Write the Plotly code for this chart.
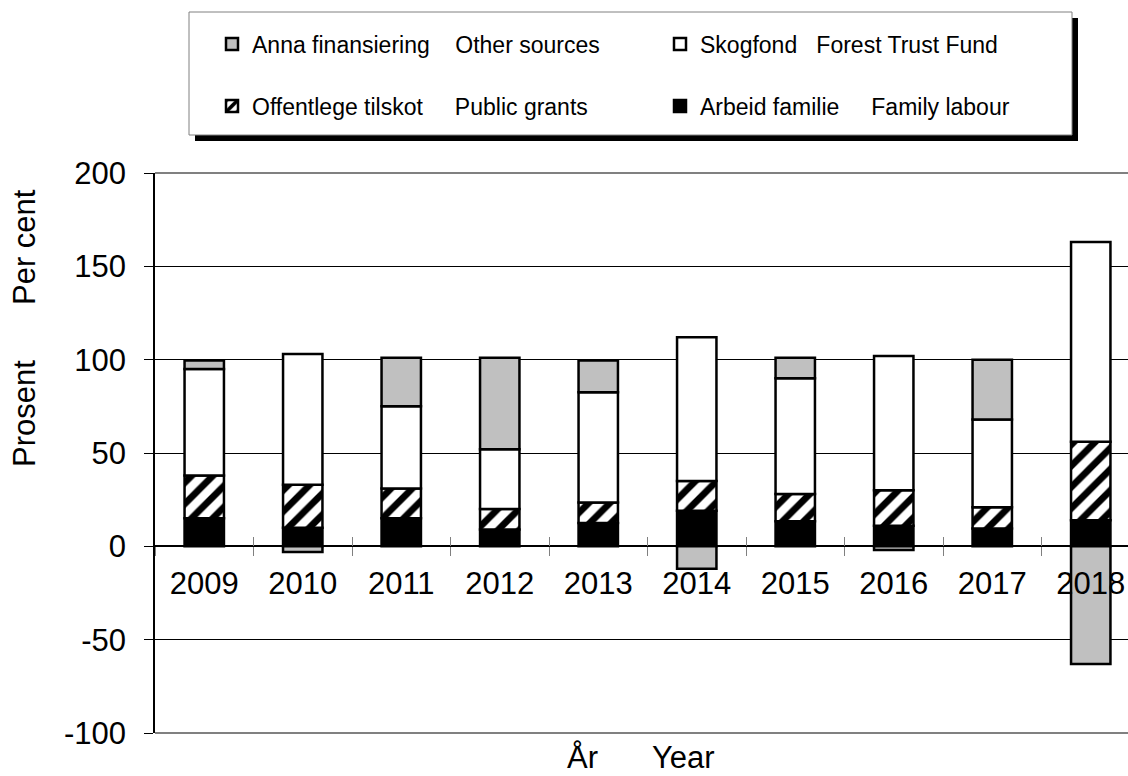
import plotly.graph_objects as go

years = ["2009", "2010", "2011", "2012", "2013", "2014", "2015", "2016", "2017", "2018"]
family_labour = [15, 10, 15, 9, 12.5, 19, 13.5, 11, 9.5, 14]
public_grants = [23, 23, 16, 11, 11, 16, 14.5, 19, 11.5, 42]
forest_fund = [57, 70, 44, 32, 59, 77, 62, 72, 47, 107]
other_sources = [4.5, -3, 26, 49, 17, -12, 11, -2, 32, -63]
y_ticks = [-100, -50, 0, 50, 100, 150, 200]
y_tick_text = ["-100", "-50", "0", "50", "100", "150", "200"]

NB = "\u00a0"
FONT = "Arial, Liberation Sans, sans-serif"
y_range = [-100, 200]
zero_pos = (0 - y_range[0]) / (y_range[1] - y_range[0])

# plot area 973 px wide, one category is about 98.5 px
x_range = [-0.5, -0.5 + 973 / 98.5]

line = dict(color="black", width=2.5)

fig = go.Figure()
fig.add_trace(go.Bar(
    x=years, y=family_labour, name="Arbeid familie" + NB * 5 + "Family labour",
    marker=dict(color="black", line=line), legend="legend2"))
fig.add_trace(go.Bar(
    x=years, y=public_grants, name="Offentlege tilskot" + NB * 5 + "Public grants",
    marker=dict(color="white", line=line,
                pattern=dict(shape="/", fgcolor="black", bgcolor="white",
                             fgopacity=1, size=15, solidity=0.45)),
    legend="legend2"))
fig.add_trace(go.Bar(
    x=years, y=forest_fund, name="Skogfond" + NB * 3 + "Forest Trust Fund",
    marker=dict(color="white", line=line), legend="legend"))
fig.add_trace(go.Bar(
    x=years, y=other_sources, name="Anna finansiering" + NB * 4 + "Other sources",
    marker=dict(color="#c0c0c0", line=line), legend="legend"))
# empty helper so the overlay axis knows the categories (inner half of the ticks)
fig.add_trace(go.Scatter(x=years, y=[None] * len(years), xaxis="x2",
                         showlegend=False, hoverinfo="skip"))

legend_common = dict(orientation="h", xanchor="left", yanchor="middle",
                     x=(212 - 155) / 973, bgcolor="rgba(0,0,0,0)", borderwidth=0,
                     entrywidth=403, entrywidthmode="pixels", traceorder="reversed",
                     font=dict(family=FONT, size=23, color="black"))

fig.update_layout(
    width=1128, height=776,
    margin=dict(l=155, r=0, t=173, b=43),
    paper_bgcolor="white", plot_bgcolor="white",
    barmode="relative", bargap=0.6,
    font=dict(family=FONT, size=31, color="black"),
    legend=dict(legend_common, y=(733 - 44) / 560),
    legend2=dict(legend_common, y=(733 - 106) / 560),
    xaxis=dict(type="category", range=x_range, anchor="free", position=zero_pos,
               showline=True, linecolor="black", linewidth=1.5,
               ticks="outside", tickson="boundaries", ticklen=9,
               tickcolor="#808080", tickwidth=1, showgrid=False,
               tickfont=dict(size=31), ticklabelstandoff=10),
    xaxis2=dict(type="category", range=x_range, overlaying="x", anchor="free",
                position=zero_pos, showline=False, showgrid=False,
                ticks="inside", tickson="boundaries", ticklen=9,
                tickcolor="#808080", tickwidth=1, showticklabels=False),
    yaxis=dict(range=y_range, tickvals=y_ticks, ticktext=y_tick_text,
               ticks="outside", ticklen=9,
               tickcolor="black", showline=True, linecolor="black", linewidth=1.5,
               showgrid=True, gridcolor="black", gridwidth=1.2, zeroline=False,
               tickfont=dict(size=31), ticklabelstandoff=12),
    shapes=[
        dict(type="rect", xref="paper", yref="paper",
             x0=(195 - 155) / 973, x1=(1078 - 155) / 973,
             y0=(733 - 141) / 560, y1=(733 - 18) / 560,
             fillcolor="black", line=dict(width=0)),
        dict(type="rect", xref="paper", yref="paper",
             x0=(189 - 155) / 973, x1=(1072 - 155) / 973,
             y0=(733 - 135) / 560, y1=(733 - 12) / 560,
             fillcolor="white", line=dict(color="#808080", width=1)),
        dict(type="line", xref="paper", yref="paper", x0=0, x1=1, y0=1, y1=1,
             line=dict(color="#808080", width=2), layer="below"),
        dict(type="line", xref="paper", yref="paper", x0=0, x1=1, y0=0, y1=0,
             line=dict(color="#808080", width=2), layer="below"),
    ],
    annotations=[
        dict(text="Prosent", xref="paper", yref="paper", x=(24 - 155) / 973,
             y=(733 - 414) / 560, textangle=-90, showarrow=False,
             xanchor="center", yanchor="middle", font=dict(size=31)),
        dict(text="Per cent", xref="paper", yref="paper", x=(24 - 155) / 973,
             y=(733 - 247) / 560, textangle=-90, showarrow=False,
             xanchor="center", yanchor="middle", font=dict(size=31)),
        dict(text="År", xref="paper", yref="paper", x=(582 - 155) / 973,
             y=(733 - 757) / 560, showarrow=False,
             xanchor="center", yanchor="middle", font=dict(size=31)),
        dict(text="Year", xref="paper", yref="paper", x=(683 - 155) / 973,
             y=(733 - 757) / 560, showarrow=False,
             xanchor="center", yanchor="middle", font=dict(size=31)),
    ],
)

fig.write_html("out.html", config={"displayModeBar": False},
               post_script="document.body.style.margin='0';"
                           "document.body.style.overflow='hidden';")
